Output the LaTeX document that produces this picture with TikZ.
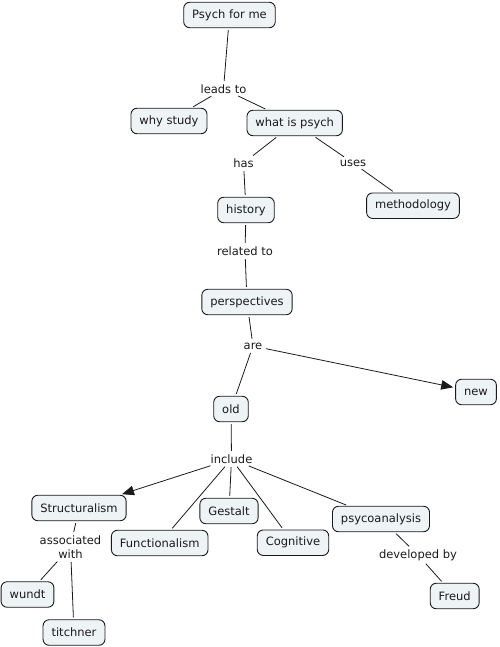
\documentclass[tikz,border=0pt]{standalone}
\usepackage{fontspec}
\setmainfont{DejaVu Sans}
\usetikzlibrary{arrows.meta}
\definecolor{boxfill}{HTML}{EEF3F5}
\definecolor{ink}{HTML}{1A1A1A}
\tikzset{
  concept/.style={draw=ink, line width=0.9pt, fill=boxfill, rounded corners=6pt,
    inner xsep=8.5pt, inner ysep=0pt, minimum height=25.5pt,
    font=\fontsize{11.5}{14}\selectfont, text=ink},
  linklabel/.style={inner sep=1.5pt, font=\fontsize{11.5}{14}\selectfont, text=ink, align=center},
  conn/.style={draw=ink, line width=0.8pt, shorten <=2pt, shorten >=2pt},
  arr/.style={conn, -{Triangle[length=12pt,width=9.5pt]}}
}
\begin{document}
\begin{tikzpicture}[x=1pt,y=-1pt]
\useasboundingbox (0,0) rectangle (499,647);
\node[concept] (psych) at (229.5,15) {Psych for me};
\node[linklabel] (leads) at (223.5,89) {leads to};
\node[concept] (why) at (169,121) {why study};
\node[concept] (what) at (294.7,123) {what is psych};
\node[linklabel] (has) at (243.5,163) {has};
\node[linklabel] (uses) at (353,163) {uses};
\node[concept] (history) at (246,210) {history};
\node[concept] (method) at (413,205.7) {methodology};
\node[linklabel] (related) at (245,251) {related to};
\node[concept] (persp) at (247,302) {perspectives};
\node[linklabel] (are) at (253,346) {are};
\node[concept] (new) at (476,392) {new};
\node[concept] (old) at (231,409) {old};
\node[linklabel] (include) at (231.5,459) {include};
\node[concept] (struct) at (79,508) {Structuralism};
\node[concept] (func) at (159.7,543) {Functionalism};
\node[concept] (gestalt) at (229,511) {Gestalt};
\node[concept] (cog) at (293,542.7) {Cognitive};
\node[concept] (psycho) at (381,519) {psycoanalysis};
\node[linklabel] (assoc) at (70.5,547) {associated\\with};
\node[concept] (wundt) at (27.5,594.5) {wundt};
\node[concept] (titch) at (74,632.5) {titchner};
\node[linklabel] (dev) at (418,555) {developed by};
\node[concept] (freud) at (454.7,596) {Freud};

\draw[conn] (psych) -- (leads);
\draw[conn] (leads) -- (why);
\draw[conn] (leads) -- (what);
\draw[conn] (what) -- (has);
\draw[conn] (what) -- (uses);
\draw[conn] (has) -- (history);
\draw[conn] (uses) -- (method);
\draw[conn] (history) -- (related);
\draw[conn] (related) -- (persp);
\draw[conn] (persp) -- (are);
\draw[arr] (are) -- (new);
\draw[conn] (are) -- (old);
\draw[conn] (old) -- (include);
\draw[arr] (include) -- (struct);
\draw[conn] (include) -- (func);
\draw[conn] (include) -- (gestalt);
\draw[conn] (include) -- (cog);
\draw[conn] (include) -- (psycho);
\draw[conn] (struct) -- (assoc);
\draw[conn] (assoc) -- (wundt);
\draw[conn] (assoc) -- (titch);
\draw[conn] (psycho) -- (dev);
\draw[conn] (dev) -- (freud);
\end{tikzpicture}
\end{document}
